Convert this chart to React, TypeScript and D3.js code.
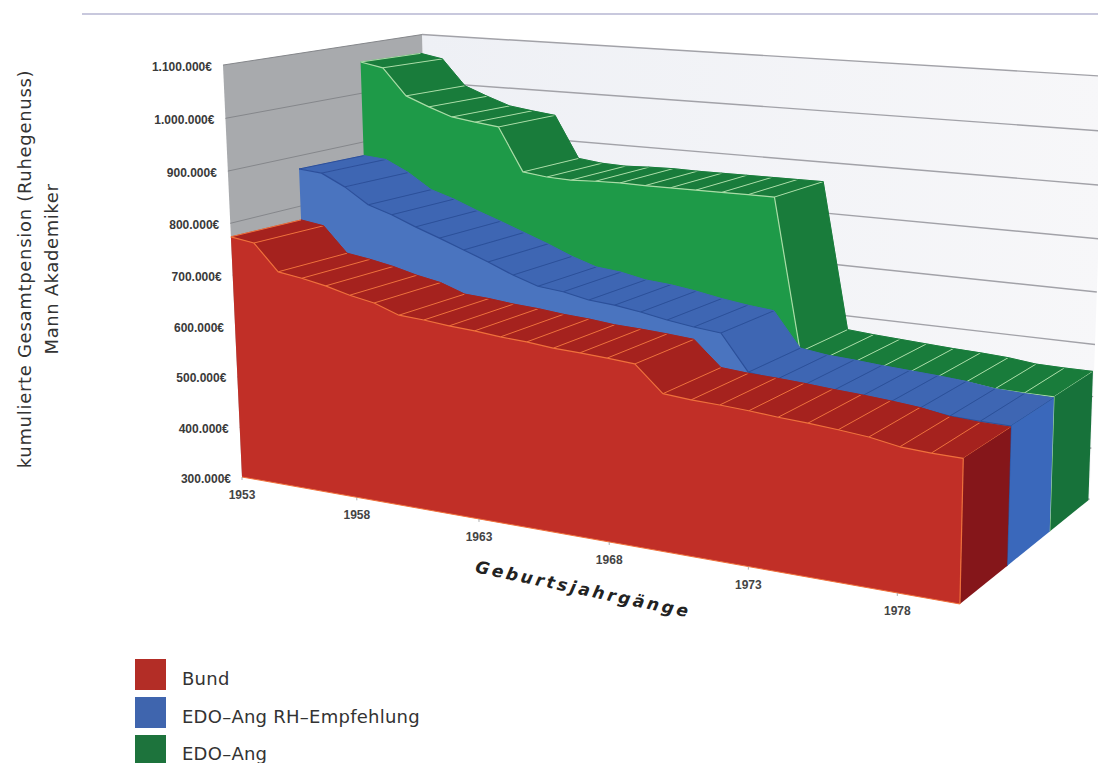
import React from "react";
import * as d3 from "d3";

const years = [1953,1954,1955,1956,1957,1958,1959,1960,1961,1962,1963,1964,1965,1966,1967,1968,1969,1970,1971,1972,1973,1974,1975,1976,1977,1978,1979,1980];
const bund = [774,767,717,710,701,689,680,663,660,655,652,647,644,639,637,634,630,584,580,578,575,571,568,564,559,550,547,546];
const edoAngRh = [876,872,849,818,803,784,767,749,731,711,695,690,680,676,669,660,653,648,582,575,572,568,565,562,558,551,549,548];
const edoAng = [1069,1060,1006,987,970,963,957,871,865,863,865,866,865,865,865,865,865,865,575,571,568,565,562,560,557,551,550,550];
const valueTicks = [300,400,500,600,700,800,900,1000,1100];
const valueLabels = ["300.000€","400.000€","500.000€","600.000€","700.000€","800.000€","900.000€","1.000.000€","1.100.000€"];
const yearTicks = [1953,1958,1963,1968,1973,1978];
const seriesNames = ["Bund","EDO–Ang RH–Empfehlung","EDO–Ang"];

type Skin = { front: string; top: string; side: string; edge: string; legend: string };
const skins: Skin[] = [
  { front: "#c12f27", top: "#a5221e", side: "#85161a", edge: "#f0703a", legend: "#b32d26" },
  { front: "#4a74bf", top: "#3e66b3", side: "#3a68bb", edge: "#2c4f9b", legend: "#3f65ae" },
  { front: "#1e9a48", top: "#197c3b", side: "#17723a", edge: "#a9dca6", legend: "#1d733c" },
];
const seriesValues = [bund, edoAngRh, edoAng];

const tScale = d3.scaleLinear().domain([1953, 1980]).range([0, 27]);
const vScale = d3.scaleLinear().domain([300, 1100]).range([0, 8]);

// 3D box -> page, a perspective camera fitted to the picture
function project(year: number, depth: number, value: number): [number, number] {
  const t = tScale(year);
  const v = vScale(value);
  const w = 1 - 0.00601 * t + 0.0446 * depth - 0.00476 * v;
  const x = 242 + 20.82 * t + 82 * depth + 0.09 * t * depth - 3.44 * v;
  const y = 477 + 1.074 * t - 6.7 * depth - 51.8 * v;
  return [x / w, y / w];
}

const WALL_D = 3.03;
// the walls sit a touch higher at their far left corner than the data camera gives
function wall(year: number, depth: number, value: number): [number, number] {
  const [x, y] = project(year, depth, value);
  return [x, y - 4 * (depth / WALL_D) * (1 - tScale(year) / 27) * vScale(value) / 8];
}

const poly = d3.line<[number, number]>().x((p) => p[0]).y((p) => p[1]);
const closed = (pts: [number, number][]) => poly(pts) + "Z";

const lastYear = years[years.length - 1];
const floor = valueTicks[0];
const ceil = valueTicks[valueTicks.length - 1];
const font = "'DejaVu Sans', sans-serif";
const axisFont = "'Liberation Sans', sans-serif";

function Series({ index }: { index: number }) {
  const vals = seriesValues[index];
  const s = skins[index];
  const n = years.length;
  const frontTop = years.map((yr, i) => project(yr, index, vals[i]));
  const backTop = years.map((yr, i) => project(yr, index + 1, vals[i]));
  const front = closed([...frontTop, project(lastYear, index, floor), project(years[0], index, floor)]);
  const side = closed([frontTop[n - 1], backTop[n - 1], project(lastYear, index + 1, floor), project(lastYear, index, floor)]);
  return (
    <g strokeLinejoin="round">
      {years.slice(0, -1).map((yr, i) => (
        <path key={yr} d={closed([frontTop[i], backTop[i], backTop[i + 1], frontTop[i + 1]])} fill={s.top} stroke={s.top} strokeWidth={0.5} />
      ))}
      {years.map((yr, i) => (
        <path key={yr} d={poly([frontTop[i], backTop[i]])!} fill="none" stroke={s.edge} strokeWidth={1} />
      ))}
      <path d={poly(backTop)!} fill="none" stroke={s.top} strokeWidth={1} />
      <path d={side} fill={s.side} />
      <path d={front} fill={s.front} />
      <path d={poly(frontTop)!} fill="none" stroke={s.edge} strokeWidth={1.2} />
      <path d={poly([frontTop[n - 1], project(lastYear, index, floor)])!} fill="none" stroke={s.edge} strokeWidth={1.2} />
      <path d={poly([project(years[0], index, floor), project(lastYear, index, floor)])!} fill="none" stroke={s.edge} strokeWidth={1} />
    </g>
  );
}

export default function App() {
  const backWall = closed([wall(years[0], WALL_D, floor), wall(years[0], WALL_D, ceil), wall(lastYear, WALL_D, ceil), wall(lastYear, WALL_D, floor)]);
  const leftWall = closed([wall(years[0], 0, floor), wall(years[0], 0, ceil), wall(years[0], WALL_D, ceil), wall(years[0], WALL_D, floor)]);
  return (
    <svg width={1098} height={763} viewBox="0 0 1098 763" style={{ position: "fixed", left: 0, top: 0, background: "#fff" }}>
      <defs>
        <linearGradient id="wallFill" x1="0" x2="1" y1="0" y2="0">
          <stop offset="0" stopColor="#eef0f5" />
          <stop offset="1" stopColor="#f7f7f9" />
        </linearGradient>
      </defs>
      <line x1={82} x2={1098} y1={14} y2={14} stroke="#b6b6d2" strokeWidth={1.5} />

      <path d={backWall} fill="url(#wallFill)" />
      <path d={leftWall} fill="#a8aaad" />
      {valueTicks.map((v) => (
        <g key={v}>
          <path d={poly([wall(years[0], 0, v), wall(years[0], WALL_D, v)])!} stroke="#85878b" strokeWidth={1} fill="none" />
          <path d={poly([wall(years[0], WALL_D, v), wall(lastYear, WALL_D, v)])!} stroke="#a2a2a8" strokeWidth={1.4} fill="none" />
        </g>
      ))}
      {[2, 1, 0].map((i) => <Series key={i} index={i} />)}

      {valueTicks.map((v, i) => {
        const [x, y] = project(years[0], 0, v);
        return (
          <text key={v} x={x - 11} y={y + 5.5} textAnchor="end" fontFamily={axisFont} fontSize={12} fontWeight={700} fill="#3a3a3a">
            {valueLabels[i]}
          </text>
        );
      })}
      {yearTicks.map((yr) => {
        const [x, y] = project(yr, 0, floor);
        return (
          <g key={yr}>
            <line x1={x} x2={x} y1={y} y2={y + 3} stroke="#999" strokeWidth={0.8} />
            <text x={x} y={y + 22} textAnchor="middle" fontFamily={axisFont} fontSize={12} fontWeight={700} fill="#444">{yr}</text>
          </g>
        );
      })}

      <text transform="translate(582,595) rotate(12)" textAnchor="middle" fontFamily={font} fontSize={17} fontWeight={700} fontStyle="italic" letterSpacing={2.9} fill="#222">
        Geburtsjahrgänge
      </text>
      <text transform="translate(31,269) rotate(-90)" textAnchor="middle" fontFamily={font} fontSize={18} letterSpacing={0.7} fill="#333">
        kumulierte Gesamtpension (Ruhegenuss)
      </text>
      <text transform="translate(58,269) rotate(-90)" textAnchor="middle" fontFamily={font} fontSize={18} letterSpacing={0.6} fill="#333">
        Mann Akademiker
      </text>

      {seriesNames.map((name, i) => (
        <g key={name}>
          <rect x={135} y={659 + 38 * i} width={31} height={31} fill={skins[i].legend} />
          <text x={182} y={685 + 37.7 * i} fontFamily={font} fontSize={18} letterSpacing={0.25} fill="#333">{name}</text>
        </g>
      ))}
    </svg>
  );
}
